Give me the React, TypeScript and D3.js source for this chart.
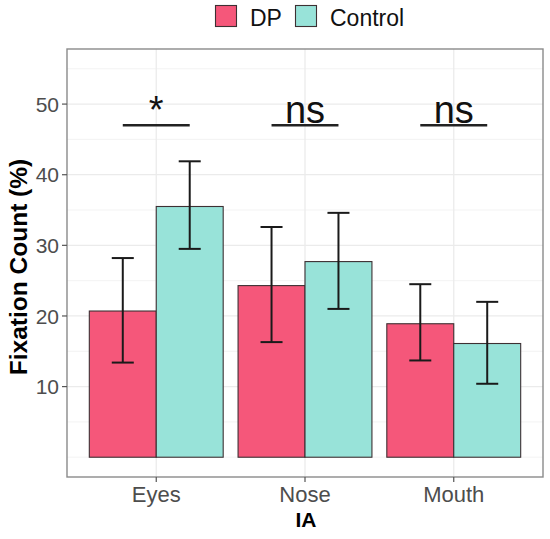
import { useRef, useEffect } from 'react';
import * as d3 from 'd3';

const categories = ['Eyes', 'Nose', 'Mouth'];
const groups = ['DP', 'Control'];
const dpMean = [20.7, 24.3, 18.9];
const dpLow = [13.4, 16.3, 13.7];
const dpHigh = [28.2, 32.6, 24.5];
const ctlMean = [35.5, 27.7, 16.1];
const ctlLow = [29.5, 21.0, 10.4];
const ctlHigh = [41.9, 34.6, 22.0];
const sigLabels = ['*', 'ns', 'ns'];
const sigLevel = 47;
const yTicks = [10, 20, 30, 40, 50];
const yMinor = [0, 5, 15, 25, 35, 45, 55];
const colors: Record<string, string> = { DP: '#F5577A', Control: '#98E3D9' };

export default function App() {
  const svgRef = useRef<SVGSVGElement>(null);
  const width = 550, height = 539;

  useEffect(() => {
    const svg = d3.select(svgRef.current);
    svg.selectAll('*').remove();

    const left = 67, right = 543, top = 49, bottom = 477;
    const x = d3.scaleBand<string>().domain(categories).range([left, right]).paddingInner(0).paddingOuter(0.1);
    const y = d3.scaleLinear().domain([-2.8, 57.8]).range([bottom, top]);
    const step = x.step();
    const center = (c: string) => (x(c) as number) + x.bandwidth() / 2;
    const sub = d3.scaleBand<string>().domain(groups).range([-0.45 * step, 0.45 * step]);
    const font = 'Liberation Sans, Arial, sans-serif';

    const g = svg.append('g');
    g.append('rect').attr('x', left).attr('y', top).attr('width', right - left).attr('height', bottom - top).attr('fill', '#fff');

    // grid
    yMinor.forEach(v => {
      g.append('line').attr('x1', left).attr('x2', right).attr('y1', y(v)).attr('y2', y(v))
        .attr('stroke', '#F0F0F0').attr('stroke-width', 0.8);
    });
    yTicks.forEach(v => {
      g.append('line').attr('x1', left).attr('x2', right).attr('y1', y(v)).attr('y2', y(v))
        .attr('stroke', '#EBEBEB').attr('stroke-width', 1.3);
    });
    categories.forEach(c => {
      g.append('line').attr('x1', center(c)).attr('x2', center(c)).attr('y1', top).attr('y2', bottom)
        .attr('stroke', '#EBEBEB').attr('stroke-width', 1.3);
    });

    // bars
    const rows = categories.flatMap((c, i) => [
      { c, grp: 'DP', m: dpMean[i], lo: dpLow[i], hi: dpHigh[i] },
      { c, grp: 'Control', m: ctlMean[i], lo: ctlLow[i], hi: ctlHigh[i] },
    ]);
    rows.forEach(r => {
      const bx = center(r.c) + (sub(r.grp) as number);
      g.append('rect').attr('x', bx).attr('y', y(r.m)).attr('width', sub.bandwidth()).attr('height', y(0) - y(r.m))
        .attr('fill', colors[r.grp]).attr('stroke', '#3d3033').attr('stroke-width', 1.1);
    });
    // error bars
    const cap = 0.074 * step;
    rows.forEach(r => {
      const cx = center(r.c) + (sub(r.grp) as number) + sub.bandwidth() / 2;
      const eb = g.append('g').attr('stroke', '#1a1a1a').attr('stroke-width', 2);
      eb.append('line').attr('x1', cx).attr('x2', cx).attr('y1', y(r.lo)).attr('y2', y(r.hi));
      eb.append('line').attr('x1', cx - cap).attr('x2', cx + cap).attr('y1', y(r.lo)).attr('y2', y(r.lo));
      eb.append('line').attr('x1', cx - cap).attr('x2', cx + cap).attr('y1', y(r.hi)).attr('y2', y(r.hi));
    });

    // significance
    categories.forEach((c, i) => {
      const x1 = center(c) + (sub('DP') as number) + sub.bandwidth() / 2;
      const x2 = center(c) + (sub('Control') as number) + sub.bandwidth() / 2;
      g.append('line').attr('x1', x1).attr('x2', x2).attr('y1', y(sigLevel)).attr('y2', y(sigLevel))
        .attr('stroke', '#222').attr('stroke-width', 2.5);
      g.append('text').attr('x', center(c)).attr('y', y(sigLevel) - 2.5).attr('text-anchor', 'middle')
        .attr('font-family', font).attr('font-size', '38px').attr('fill', '#111')
        .text(sigLabels[i]);
    });

    // border
    g.append('rect').attr('x', left).attr('y', top).attr('width', right - left).attr('height', bottom - top)
      .attr('fill', 'none').attr('stroke', '#8a8a8a').attr('stroke-width', 1.4);

    // axes
    yTicks.forEach(v => {
      g.append('line').attr('x1', left - 5).attr('x2', left).attr('y1', y(v)).attr('y2', y(v)).attr('stroke', '#555').attr('stroke-width', 1.2);
      g.append('text').attr('x', left - 8).attr('y', y(v)).attr('dy', '0.36em').attr('text-anchor', 'end')
        .attr('font-family', font).attr('font-size', '21px').attr('fill', '#4d4d4d')
        .text(v);
    });
    categories.forEach(c => {
      g.append('line').attr('x1', center(c)).attr('x2', center(c)).attr('y1', bottom).attr('y2', bottom + 5).attr('stroke', '#555').attr('stroke-width', 1.2);
      g.append('text').attr('x', center(c)).attr('y', 502).attr('text-anchor', 'middle')
        .attr('font-family', font).attr('font-size', '22px').attr('fill', '#4d4d4d')
        .text(c);
    });
    g.append('text').attr('x', (left + right) / 2 + 1).attr('y', 527).attr('text-anchor', 'middle')
      .attr('font-family', font).attr('font-size', '21px').attr('font-weight', 'bold').attr('fill', '#000')
      .text('IA');
    g.append('text').attr('transform', `translate(27,${(top + bottom) / 2 + 4}) rotate(-90)`).attr('text-anchor', 'middle')
      .attr('font-family', font).attr('font-size', '24.5px').attr('font-weight', 'bold').attr('fill', '#000')
      .text('Fixation Count (%)');

    // legend
    const legend = [
      { k: 'DP', bx: 215.5, tx: 250 },
      { k: 'Control', bx: 295.5, tx: 330 },
    ];
    legend.forEach(l => {
      g.append('rect').attr('x', l.bx).attr('y', 5.5).attr('width', 21).attr('height', 21)
        .attr('fill', colors[l.k]).attr('stroke', '#3d3033').attr('stroke-width', 1.1);
      g.append('text').attr('x', l.tx).attr('y', 26).attr('font-family', font)
        .attr('font-size', '23px').attr('fill', '#111').text(l.k);
    });
  }, []);

  return (
    <svg ref={svgRef} width={width} height={height} viewBox={`0 0 ${width} ${height}`}
      style={{ position: 'absolute', left: 0, top: 0, display: 'block', background: '#fff' }} />
  );
}
